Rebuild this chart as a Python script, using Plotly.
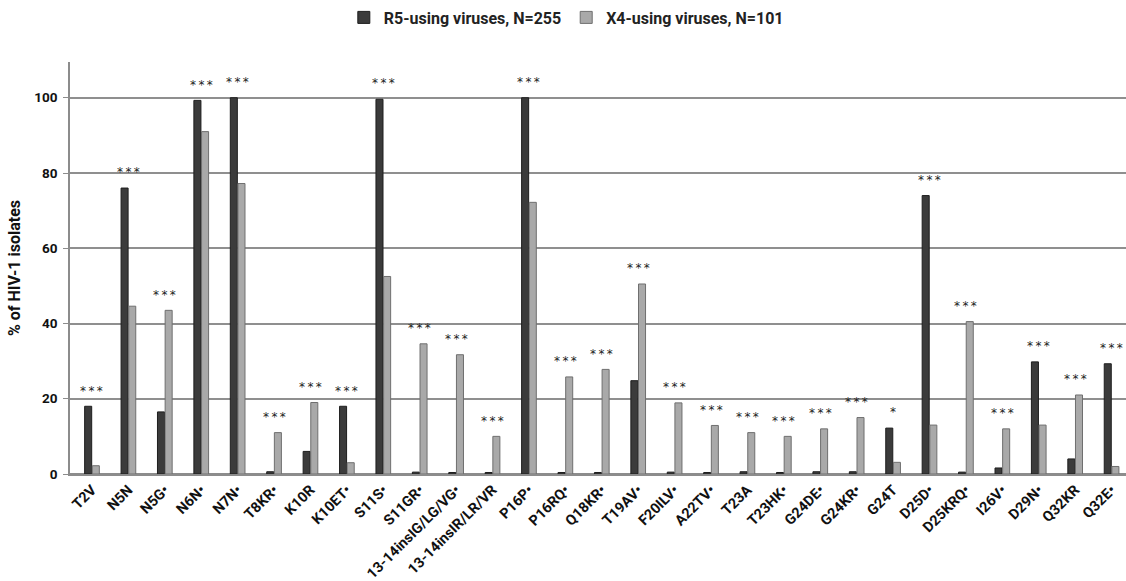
import plotly.graph_objects as go

categories = ["T2V", "N5N", "N5G•", "N6N•", "N7N•", "T8KR•", "K10R", "K10ET•", "S11S•",
              "S11GR•", "13-14insIG/LG/VG•", "13-14insIR/LR/VR", "P16P•", "P16RQ•",
              "Q18KR•", "T19AV•", "F20ILV•", "A22TV•", "T23A", "T23HK•", "G24DE•",
              "G24KR•", "G24T", "D25D•", "D25KRQ•", "I26V•", "D29N•", "Q32KR", "Q32E•"]

r5_values = [18.0, 76.0, 16.5, 99.3, 100.0, 0.6, 6.0, 18.0, 99.6, 0.5, 0.4, 0.4, 100.0,
             0.4, 0.4, 24.8, 0.5, 0.4, 0.6, 0.4, 0.6, 0.6, 12.2, 74.0, 0.5, 1.6, 29.8,
             4.0, 29.3]
x4_values = [2.2, 44.6, 43.5, 91.0, 77.2, 11.0, 19.0, 3.0, 52.5, 34.6, 31.7, 10.0, 72.2,
             25.8, 27.8, 50.5, 18.9, 12.9, 11.0, 10.0, 12.0, 15.0, 3.1, 13.0, 40.5,
             12.0, 13.0, 21.0, 2.0]

significance = ["***"] * len(categories)
significance[categories.index("G24T")] = "*"

y_ticks = [0, 20, 40, 60, 80, 100]

FONT = "Roboto, 'Liberation Sans', sans-serif"

fig = go.Figure()
fig.add_trace(go.Bar(
    x=list(range(len(categories))), y=r5_values, name="R5-using viruses, N=255",
    marker=dict(color="#3b3b3b", line=dict(color="#1e1e1e", width=1)),
))
fig.add_trace(go.Bar(
    x=list(range(len(categories))), y=x4_values, name="X4-using viruses, N=101",
    marker=dict(color="#a9a9a9", line=dict(color="#6f6f6f", width=1)),
))

for i, (s, a, b) in enumerate(zip(significance, r5_values, x4_values)):
    fig.add_annotation(x=i, y=max(a, b) + 1.8, text="\u2009".join(s), showarrow=False,
                       yanchor="bottom", font=dict(family="DejaVu Sans, sans-serif", size=12, color="#222"))

fig.update_layout(
    width=1126, height=581,
    margin=dict(l=70, r=0, t=60, b=107),
    paper_bgcolor="white", plot_bgcolor="white",
    barmode="group", bargap=0.58, bargroupgap=0.08,
    font=dict(family=FONT, color="#222"),
    legend=dict(orientation="h", x=0.470, xanchor="center", yref="paper",
                y=1.108, yanchor="middle",
                font=dict(family=FONT, size=16, color="#222", weight="bold"),
                itemwidth=30, traceorder="normal"),
    xaxis=dict(
        tickmode="array", tickvals=list(range(len(categories))), ticktext=categories,
        tickangle=-45, range=[-0.604, 28.396], automargin=False,
        tickfont=dict(family=FONT, size=14.5, color="#111", weight="bold"),
        showline=True, linecolor="#8c8c8c", linewidth=1.5, ticks="",
        showgrid=False,
    ),
    yaxis=dict(
        range=[0, 109.5], tickvals=y_ticks, automargin=False,
        tickfont=dict(family=FONT, size=13.5, color="#111", weight="bold"),
        ticklabelstandoff=3,
        showgrid=True, gridcolor="#8f8f8f", gridwidth=1.5,
        showline=True, linecolor="#8c8c8c", linewidth=1.5,
        ticks="outside", ticklen=5, tickcolor="#8c8c8c",
        zeroline=True, zerolinecolor="#8c8c8c", zerolinewidth=1.5,
        title=dict(text="% of HIV-1 isolates", standoff=10,
                   font=dict(family=FONT, size=16, color="#111", weight="bold")),
    ),
)

fig.write_html("out.html", config={"displayModeBar": False},
               post_script="document.body.style.margin='0';")
